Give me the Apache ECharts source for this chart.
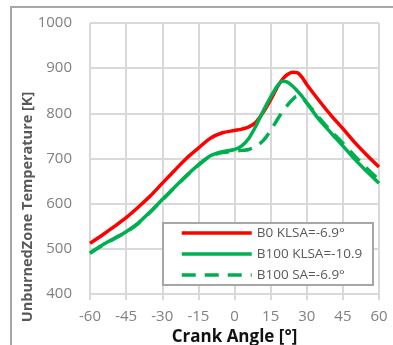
<!DOCTYPE html>
<html>
<head>
<meta charset="utf-8">
<script src="https://cdn.jsdelivr.net/npm/echarts@6/dist/echarts.min.js"></script>
<style>
  html, body { margin: 0; padding: 0; background: #ffffff; }
  #chart { width: 393px; height: 345px; }
</style>
</head>
<body>
<div id="chart"></div>
<script>
// Crank angle samples [deg] shared by all three traces
const crankAngle = [-60, -55, -50, -45, -40, -35, -30, -25, -20, -15, -10, -5, 0, 3, 6, 9, 12, 15, 18, 20, 22, 24, 26, 28, 30, 35, 40, 45, 50, 55, 60];

// Unburned zone temperature [K]
const b0Klsa = [512, 530, 549, 569, 592, 617, 645, 673, 700, 723, 745, 757, 762, 765, 770, 781, 803, 830, 860, 876, 886, 891, 890, 880, 864, 829, 796, 766, 735, 707, 681];
const b100Klsa = [491, 508, 523, 538, 557, 582, 609, 636, 662, 686, 706, 715, 720, 728, 745, 773, 806, 836, 862, 871, 869, 861, 850, 838, 823, 787, 757, 728, 698, 671, 645];
const b100Sa = [490, 507, 522, 537, 556, 581, 608, 635, 661, 685, 705, 713, 716, 718, 720, 727, 740, 762, 788, 804, 818, 830, 838, 835, 823, 791, 761, 734, 705, 678, 653];

const seriesNames = ['B0 KLSA=-6.9°', 'B100 KLSA=-10.9', 'B100 SA=-6.9°'];
const xTicks = { min: -60, max: 60, interval: 15 };
const yTicks = { min: 400, max: 1000, interval: 100 };

const pairs = vals => crankAngle.map((a, i) => [a, vals[i]]);

const FONT = 'Open Sans';
const GRID_COLOR = '#D9D9D9';

const chart = echarts.init(document.getElementById('chart'), null, { renderer: 'canvas' });

chart.setOption({
  backgroundColor: '#ffffff',
  animation: false,
  grid: { left: 90, top: 23, width: 289, height: 271, containLabel: false, outerBoundsMode: 'none' },
  xAxis: {
    type: 'value',
    min: xTicks.min, max: xTicks.max, interval: xTicks.interval,
    name: 'Crank Angle [°]',
    nameLocation: 'middle',
    nameGap: 33,
    nameTextStyle: { fontFamily: FONT, fontWeight: 'bold', fontSize: 17, color: '#111111' },
    axisLine: { show: true, lineStyle: { color: GRID_COLOR, width: 2 } },
    axisTick: { show: true, length: 6, lineStyle: { color: GRID_COLOR, width: 2 } },
    axisLabel: { margin: 15, fontFamily: FONT, fontSize: 15, color: '#808080',
                 formatter: v => String(v) },
    splitLine: { show: true, lineStyle: { color: GRID_COLOR, width: 2 } }
  },
  yAxis: {
    type: 'value',
    min: yTicks.min, max: yTicks.max, interval: yTicks.interval,
    axisLine: { show: true, lineStyle: { color: GRID_COLOR, width: 2 } },
    axisTick: { show: false },
    axisLabel: { margin: 18, fontFamily: FONT, fontSize: 15, color: '#808080',
                 formatter: v => String(v) },
    splitLine: { show: true, lineStyle: { color: GRID_COLOR, width: 2 } }
  },
  legend: {
    orient: 'vertical',
    left: 180, top: 226,
    padding: 0,
    itemWidth: 70, itemHeight: 14, itemGap: 7,
    z: 6,
    data: seriesNames,
    itemStyle: { color: 'transparent', borderWidth: 0, opacity: 0 },
    lineStyle: { width: 3.5 },
    textStyle: { fontFamily: FONT, fontSize: 13.5, color: '#595959' }
  },
  graphic: [
    // outer chart frame
    { type: 'rect', z: 10, silent: true,
      shape: { x: 11, y: 7, width: 400, height: 360 },
      style: { fill: 'none', stroke: '#A6A6A6', lineWidth: 2 } },
    // legend box
    { type: 'rect', z: 5, silent: true,
      shape: { x: 163, y: 223, width: 210, height: 62 },
      style: { fill: '#ffffff', stroke: '#A6A6A6', lineWidth: 2 } },
    // y-axis title
    { type: 'text', z: 10, silent: true,
      x: 27.5, y: 207, rotation: Math.PI / 2,
      style: { text: 'UnburnedZone Temperature [K]', fontFamily: FONT, fontWeight: 'bold',
               fontSize: 14.5, fill: '#595959', align: 'center', verticalAlign: 'middle' } }
  ],
  series: [
    { name: seriesNames[0], type: 'line', data: pairs(b0Klsa), showSymbol: false, symbol: 'none',
      smooth: 0.3, z: 3, lineStyle: { color: '#FF0000', width: 3.5 }, itemStyle: { color: '#FF0000' } },
    { name: seriesNames[1], type: 'line', data: pairs(b100Klsa), showSymbol: false, symbol: 'none',
      smooth: 0.3, z: 3, lineStyle: { color: '#00B050', width: 3.5 }, itemStyle: { color: '#00B050' } },
    { name: seriesNames[2], type: 'line', data: pairs(b100Sa), showSymbol: false, symbol: 'none',
      smooth: 0.3, z: 3, lineStyle: { color: '#00B050', width: 3.5, type: [14, 9] }, itemStyle: { color: '#00B050' } }
  ]
});
</script>
</body>
</html>
